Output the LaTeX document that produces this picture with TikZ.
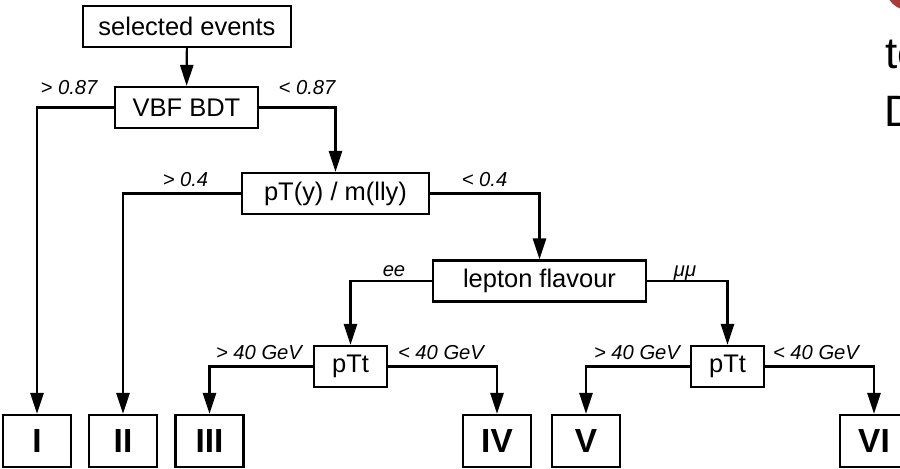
\documentclass[tikz,border=0pt]{standalone}
\usepackage{fontspec}
\setmainfont{Liberation Sans}
\usetikzlibrary{arrows.meta}
\definecolor{slidered}{RGB}{168,60,56}

\begin{document}
\begin{tikzpicture}[x=0.02cm, y=-0.02cm,
    box/.style={draw, line width=1.25pt, inner sep=0pt, minimum height=0.82cm,
        font=\fontsize{14.5}{17}\selectfont},
    leaf/.style={draw, line width=1.25pt, inner sep=0pt, minimum width=1.36cm,
        minimum height=1.04cm, font=\fontsize{19}{22}\selectfont\bfseries},
    cut/.style={inner sep=0pt, font=\fontsize{11.5}{13}\selectfont\itshape},
    flow/.style={line width=1.25pt, -{Triangle[length=12pt,width=7.5pt]}}]
    \path[use as bounding box] (0,0) rectangle (900,469);
    \clip (0,0) rectangle (900,469);

    % Cortes de la seleccion
    \node[box, minimum width=4.16cm] (sel) at (187,26.5) {selected events};
    \node[box, minimum width=2.86cm] (vbf) at (186.5,107.5) {VBF BDT};
    \node[box, minimum width=3.74cm] (ptm) at (335.5,193.5) {pT(y) / m(lly)};
    \node[box, minimum width=4.26cm] (lep) at (539.5,281) {lepton flavour};
    \node[box, minimum width=1.46cm] (ptta) at (350.5,366.5) {pTt};
    \node[box, minimum width=1.46cm] (pttb) at (727.5,366.5) {pTt};

    % Categorias finales
    \node[leaf] (catI) at (37,441) {I};
    \node[leaf] (catII) at (123,441) {II};
    \node[leaf] (catIII) at (209.5,441) {III};
    \node[leaf] (catIV) at (497,441) {IV};
    \node[leaf] (catV) at (586,441) {V};
    \node[leaf] (catVI) at (874,441) {VI};

    % Flechas
    \draw[flow] (sel) -- (vbf);
    \draw[flow] (vbf.west) -| (catI.north);
    \draw[flow] (vbf.east) -| (ptm.north);
    \draw[flow] (ptm.west) -| (catII.north);
    \draw[flow] (ptm.east) -| (lep.north);
    \draw[flow] (lep.west) -| (ptta.north);
    \draw[flow] (lep.east) -| (pttb.north);
    \draw[flow] (ptta.west) -| (catIII.north);
    \draw[flow] (ptta.east) -| (catIV.north);
    \draw[flow] (pttb.west) -| (catV.north);
    \draw[flow] (pttb.east) -| (catVI.north);

    % Valores de corte
    \node[cut] (gtbdt) at (69,88) {> 0.87};
    \node[cut] (ltbdt) at (307,88) {< 0.87};
    \node[cut] (gtpt) at (185.5,180) {> 0.4};
    \node[cut] (ltpt) at (484.5,180) {< 0.4};
    \node[cut] (ee) at (394,271) {ee};
    \node[cut] (mumu) at (685,273) {μμ};
    \node[cut] (gtea) at (259,353) {> 40 GeV};
    \node[cut] (ltea) at (441,353) {< 40 GeV};
    \node[cut] (gtmm) at (637,353) {> 40 GeV};
    \node[cut] (ltmm) at (816,353) {< 40 GeV};

    % Resto de la diapositiva
    \fill[slidered] (908,-12) circle[radius=0.44cm];
    \node[anchor=base west, inner sep=0pt, font=\fontsize{25}{30}\selectfont] (te) at (885,69) {te};
    \node[anchor=base west, inner sep=0pt, font=\fontsize{25}{30}\selectfont] (dd) at (884.5,127) {D};
\end{tikzpicture}
\end{document}
